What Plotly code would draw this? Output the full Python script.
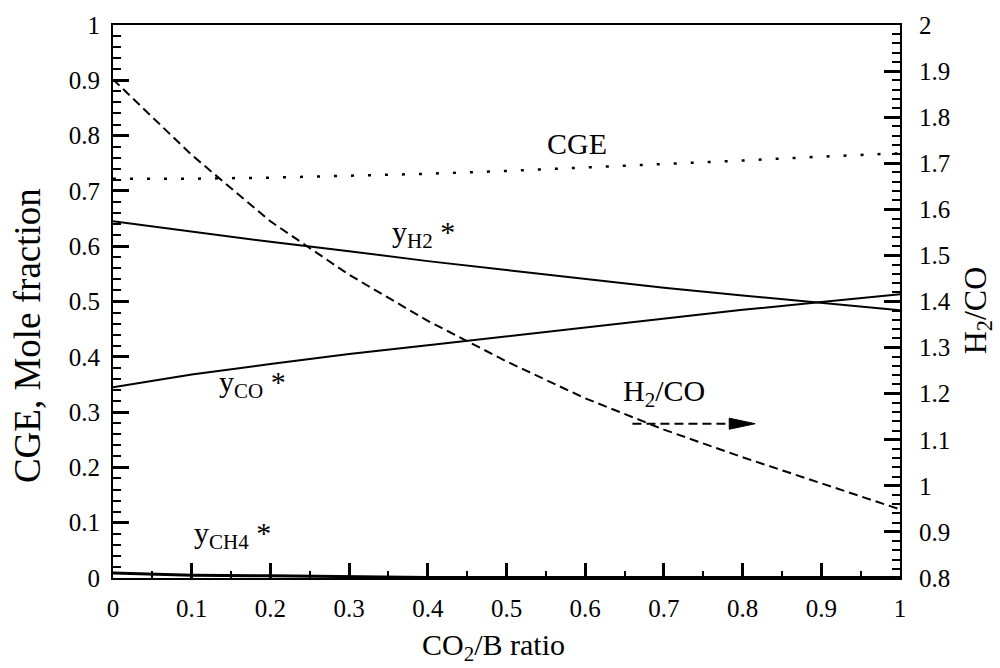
import plotly.graph_objects as go

# ---- data ----
ratio = [0.0, 0.1, 0.2, 0.3, 0.4, 0.5, 0.6, 0.7, 0.8, 0.9, 1.0]
cge = [0.722, 0.722, 0.724, 0.727, 0.731, 0.736, 0.742, 0.748, 0.755, 0.762, 0.768]
y_h2 = [0.645, 0.626, 0.608, 0.591, 0.573, 0.557, 0.541, 0.525, 0.511, 0.497, 0.484]
y_co = [0.345, 0.368, 0.387, 0.405, 0.421, 0.437, 0.454, 0.470, 0.485, 0.499, 0.513]
y_ch4 = [0.009, 0.005, 0.004, 0.002, 0.001, 0.001, 0.001, 0.001, 0.001, 0.001, 0.001]
h2_co = [1.882, 1.718, 1.574, 1.458, 1.358, 1.270, 1.190, 1.122, 1.062, 1.006, 0.949]

FONT = "Liberation Serif, Times New Roman, serif"
BLACK = "black"
TICKC = "black"

fig = go.Figure()
fig.add_trace(go.Scatter(x=ratio, y=cge, mode="lines",
                         line=dict(color=BLACK, width=2.5, dash="3px,14px")))
fig.add_trace(go.Scatter(x=ratio, y=y_h2, mode="lines", line=dict(color=BLACK, width=2)))
fig.add_trace(go.Scatter(x=ratio, y=y_co, mode="lines", line=dict(color=BLACK, width=2)))
fig.add_trace(go.Scatter(x=ratio, y=y_ch4, mode="lines", line=dict(color=BLACK, width=3)))
fig.add_trace(go.Scatter(x=ratio, y=h2_co, mode="lines", yaxis="y2",
                         line=dict(color=BLACK, width=2, dash="9px,5px")))

tickfont = dict(family=FONT, size=25, color=BLACK)
common = dict(showgrid=False, zeroline=False, showline=True, linecolor=BLACK, linewidth=2,
              ticks="inside", tickcolor=TICKC, tickwidth=2.5, tickfont=tickfont)

fig.update_layout(
    width=1000, height=668,
    margin=dict(l=113, r=100, t=18, b=90),
    paper_bgcolor="white", plot_bgcolor="white",
    showlegend=False,
    font=dict(family=FONT, color=BLACK),
    xaxis=dict(range=[0, 1], dtick=0.1, ticklen=15, mirror=True,
               minor=dict(dtick=0.05, ticklen=7, tickwidth=2, tickcolor=TICKC, ticks="inside"),
               ticklabelstandoff=7, **common),
    yaxis=dict(range=[0, 1], dtick=0.1, ticklen=16,
               minor=dict(dtick=0.02, ticklen=8, tickwidth=2, tickcolor=TICKC, ticks="inside"),
               ticklabelstandoff=6, **common),
    yaxis2=dict(range=[0.8, 2], dtick=0.1, ticklen=16, overlaying="y", side="right",
                minor=dict(dtick=0.02, ticklen=8, tickwidth=2, tickcolor=TICKC, ticks="inside"),
                ticklabelstandoff=12, **common),
)

lab = dict(family=FONT, size=30, color=BLACK)
ann = [
    dict(x=0.590, y=0.786, text="CGE", xanchor="center", yanchor="middle"),
    dict(x=0.352, y=0.622, text="y<sub>H2</sub> *", xanchor="left", yanchor="middle"),
    dict(x=0.132, y=0.35, text="y<sub>CO</sub> *", xanchor="left", yanchor="middle"),
    dict(x=0.645, y=0.335, text="H<sub>2</sub>/CO", xanchor="left", yanchor="middle"),
    dict(x=0.1, y=0.078, text="y<sub>CH4</sub> *", xanchor="left", yanchor="middle"),
]
for a in ann:
    fig.add_annotation(xref="x", yref="y", showarrow=False, font=lab, **a)

# axis titles
fig.add_annotation(xref="paper", yref="paper", x=0, y=0.4375, xshift=-86, text="CGE, Mole fraction",
                   textangle=-90, showarrow=False, font=dict(family=FONT, size=37, color=BLACK),
                   xanchor="center", yanchor="middle")
fig.add_annotation(xref="paper", yref="paper", x=1, y=0.484, xshift=77, text="H<sub>2</sub>/CO",
                   textangle=-90, showarrow=False, font=dict(family=FONT, size=32, color=BLACK),
                   xanchor="center", yanchor="middle")
fig.add_annotation(xref="paper", yref="paper", x=0.484, y=0, yshift=-69, text="CO<sub>2</sub>/B ratio",
                   showarrow=False, font=dict(family=FONT, size=30, color=BLACK),
                   xanchor="center", yanchor="middle")

# dashed arrow pointing to the right axis
fig.add_shape(type="line", xref="x", yref="y", x0=0.66, y0=0.279, x1=0.79, y1=0.279,
              line=dict(color=BLACK, width=2, dash="9px,5px"))
fig.add_shape(type="path", xref="x", yref="y",
              path="M 0.783,0.289 L 0.816,0.279 L 0.783,0.269 Z",
              fillcolor=BLACK, line=dict(color=BLACK, width=1))

fig.write_html("out.html")
